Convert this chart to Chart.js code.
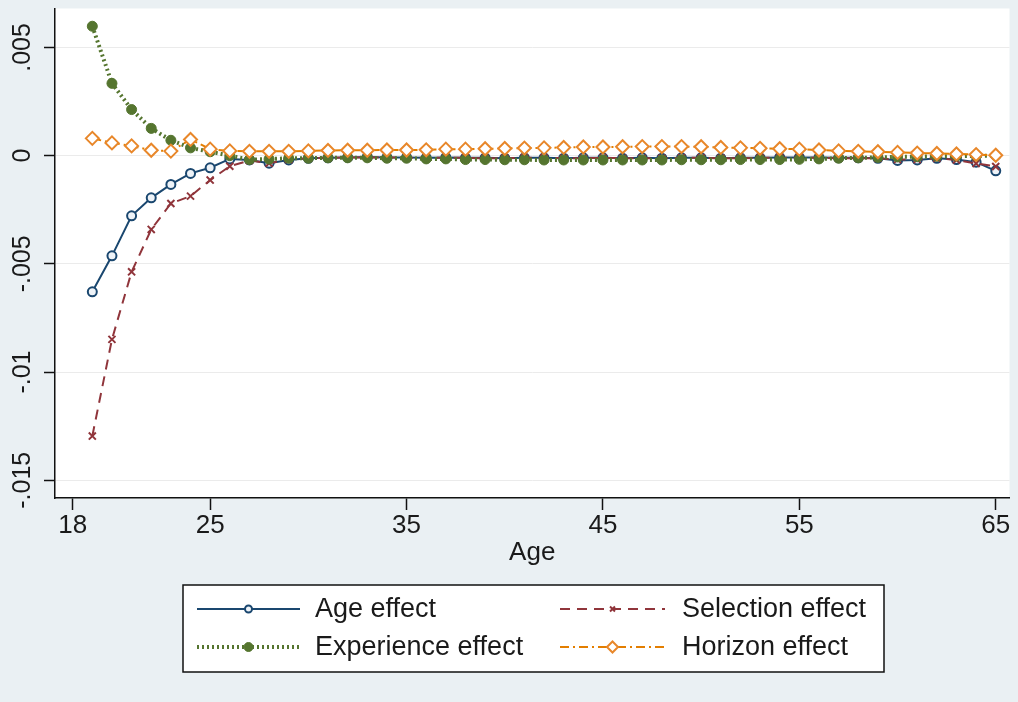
<!DOCTYPE html>
<html><head><meta charset="utf-8">
<script src="https://cdn.jsdelivr.net/npm/chart.js@4.4.1/dist/chart.umd.min.js"></script>
<style>html,body{margin:0;padding:0;background:#eaf0f3;overflow:hidden}#wrap{width:1018px;height:702px;position:relative}canvas{display:block}</style>
</head><body><div id="wrap"><canvas id="c" width="1018" height="702"></canvas></div>
<script>
const ages = [19,20,21,22,23,24,25,26,27,28,29,30,31,32,33,34,35,36,37,38,39,40,41,42,43,44,45,46,47,48,49,50,51,52,53,54,55,56,57,58,59,60,61,62,63,64,65];
const ageEffect = [-0.00629,-0.00463,-0.00278,-0.00195,-0.00133,-0.00082,-0.00056,-0.00015,-0.00020,-0.00035,-0.00020,-0.00012,-0.00010,-0.00008,-0.00006,-0.00008,-0.00008,-0.00010,-0.00008,-0.00010,-0.00010,-0.00012,-0.00010,-0.00010,-0.00012,-0.00010,-0.00010,-0.00012,-0.00010,-0.00012,-0.00010,-0.00010,-0.00012,-0.00010,-0.00010,-0.00008,-0.00008,-0.00008,-0.00010,-0.00010,-0.00012,-0.00022,-0.00020,-0.00012,-0.00018,-0.00030,-0.00070];
const selectionEffect = [-0.01296,-0.00849,-0.00537,-0.00341,-0.00221,-0.00187,-0.00113,-0.00049,-0.00022,-0.00035,-0.00018,-0.00012,-0.00010,-0.00008,-0.00008,-0.00008,-0.00010,-0.00010,-0.00010,-0.00010,-0.00012,-0.00012,-0.00010,-0.00010,-0.00012,-0.00012,-0.00010,-0.00012,-0.00012,-0.00012,-0.00010,-0.00010,-0.00012,-0.00012,-0.00010,-0.00010,-0.00010,-0.00010,-0.00012,-0.00012,-0.00012,-0.00018,-0.00018,-0.00012,-0.00020,-0.00036,-0.00050];
const experienceEffect = [0.00598,0.00334,0.00213,0.00126,0.00071,0.00036,0.00018,0.00000,-0.00018,-0.00016,-0.00012,-0.00012,-0.00010,-0.00010,-0.00010,-0.00012,-0.00012,-0.00015,-0.00015,-0.00018,-0.00018,-0.00019,-0.00019,-0.00020,-0.00020,-0.00020,-0.00020,-0.00020,-0.00020,-0.00020,-0.00019,-0.00019,-0.00019,-0.00018,-0.00018,-0.00018,-0.00017,-0.00015,-0.00012,-0.00010,-0.00008,-0.00006,-0.00005,-0.00003,-0.00002,-0.00001,0.00000];
const horizonEffect = [0.00080,0.00059,0.00045,0.00025,0.00021,0.00075,0.00030,0.00022,0.00020,0.00020,0.00020,0.00022,0.00024,0.00025,0.00025,0.00026,0.00026,0.00027,0.00030,0.00030,0.00032,0.00033,0.00035,0.00036,0.00038,0.00040,0.00040,0.00041,0.00042,0.00042,0.00042,0.00041,0.00038,0.00036,0.00034,0.00032,0.00030,0.00026,0.00022,0.00020,0.00018,0.00015,0.00012,0.00010,0.00008,0.00005,0.00002];
const seriesNames = ['Age effect','Selection effect','Experience effect','Horizon effect'];
const xTickValues = [18,25,35,45,55,65];
const yTickValues = [-0.015,-0.01,-0.005,0,0.005];
const yTickLabels = ['-.015','-.01','-.005','0','.005'];
const xTitle = 'Age';

const FONT = '"Liberation Sans", Arial, sans-serif';
const pts = arr => ages.map((a,i)=>({x:a,y:arr[i]}));

const bgPlugin = {
  id:'bg',
  beforeDraw(chart){
    const {ctx, chartArea:a} = chart;
    ctx.save();
    ctx.fillStyle = '#eaf0f3';
    ctx.fillRect(0,0,chart.width,chart.height);
    ctx.fillStyle = '#ffffff';
    ctx.fillRect(a.left,a.top,a.right-a.left,a.bottom-a.top);
    ctx.restore();
  }
};

const legendPlugin = {
  id:'customLegend',
  afterDraw(chart){
    const ctx = chart.ctx;
    ctx.save();
    ctx.fillStyle = '#ffffff';
    ctx.fillRect(183,585,701,87);
    ctx.strokeStyle = '#111';
    ctx.lineWidth = 1.5;
    ctx.strokeRect(183,585,701,87);
    const cols = [{x0:197,x1:300,tx:315},{x0:560,x1:665,tx:682}];
    const rows = [609,647];
    const slots = [[0,0],[1,0],[0,1],[1,1]];
    chart.data.datasets.forEach((ds,i)=>{
      const c = cols[slots[i][0]], y = rows[slots[i][1]];
      ctx.save();
      ctx.strokeStyle = ds.borderColor;
      ctx.lineWidth = ds.borderWidth;
      ctx.setLineDash(ds.borderDash || []);
      ctx.beginPath(); ctx.moveTo(c.x0,y); ctx.lineTo(c.x1,y); ctx.stroke();
      ctx.setLineDash([]);
      ctx.fillStyle = ds.pointBackgroundColor;
      ctx.strokeStyle = ds.pointBorderColor;
      ctx.lineWidth = ds.pointBorderWidth;
      Chart.helpers.drawPoint(ctx,{pointStyle:ds.pointStyle,radius:ds.legendRadius,rotation:0,borderWidth:ds.pointBorderWidth},(c.x0+c.x1)/2,y);
      ctx.restore();
      ctx.fillStyle = '#1a1a1a';
      ctx.font = '27px ' + FONT;
      ctx.textBaseline = 'middle';
      ctx.textAlign = 'left';
      ctx.fillText(ds.label, c.tx, y+1);
    });
    ctx.restore();
  }
};

new Chart(document.getElementById('c'), {
  type:'line',
  data:{
    datasets:[
      {label:seriesNames[0], data:pts(ageEffect), borderColor:'#1a476f', borderWidth:2, pointStyle:'circle', pointRadius:4.5, pointBorderWidth:2, pointBackgroundColor:'#eef3f8', pointBorderColor:'#1a476f', legendRadius:3.5, order:4},
      {label:seriesNames[1], data:pts(selectionEffect), borderColor:'#90353b', borderWidth:2, borderDash:[10,7], pointStyle:'crossRot', pointRadius:5, pointBorderWidth:2, pointBackgroundColor:'#90353b', pointBorderColor:'#90353b', legendRadius:3.5, order:3},
      {label:seriesNames[2], data:pts(experienceEffect), borderColor:'#55752f', borderWidth:4, borderDash:[2,3], pointStyle:'circle', pointRadius:5, pointBorderWidth:1, pointBackgroundColor:'#55752f', pointBorderColor:'#55752f', legendRadius:4.5, order:2},
      {label:seriesNames[3], data:pts(horizonEffect), borderColor:'#e37e00', borderWidth:2, borderDash:[9,4,2,4], pointStyle:'rectRot', pointRadius:6.5, pointBorderWidth:2, pointBackgroundColor:'#ffffff', pointBorderColor:'#e8872a', legendRadius:5.5, order:1}
    ]
  },
  options:{
    responsive:false, animation:false, devicePixelRatio:1, events:[],
    layout:{padding:{top:8,right:6,bottom:130,left:0}},
    elements:{line:{tension:0}},
    plugins:{legend:{display:false}, tooltip:{enabled:false}},
    scales:{
      x:{
        type:'linear', min:17.1, max:65.7,
        afterBuildTicks(s){ s.ticks = xTickValues.map(v=>({value:v})); },
        afterFit(s){ s.height = 74; },
        ticks:{ font:{family:FONT,size:26}, color:'#1a1a1a', padding:0, maxRotation:0, autoSkip:false, callback:v=>String(v)},
        grid:{ drawOnChartArea:false, tickColor:'#111', tickLength:12, tickWidth:1.5 },
        border:{ display:true, color:'#111', width:1.5 },
        title:{ display:true, text:xTitle, font:{family:FONT,size:26}, color:'#1a1a1a', padding:{top:0,bottom:4} }
      },
      y:{
        type:'linear', min:-0.01582, max:0.0068,
        afterBuildTicks(s){ s.ticks = yTickValues.map(v=>({value:v})); },
        afterFit(s){ s.width = 55; },
        ticks:{ font:{family:FONT,size:25}, color:'#1a1a1a', minRotation:90, maxRotation:90, crossAlign:'center', padding:-8, autoSkip:false, callback:(v,i)=>yTickLabels[i] },
        grid:{ color:'#ebebeb', lineWidth:1, tickColor:'#111', tickLength:11, tickWidth:1.5 },
        border:{ display:true, color:'#111', width:1.5 }
      }
    }
  },
  plugins:[bgPlugin, legendPlugin]
});
</script></body></html>
